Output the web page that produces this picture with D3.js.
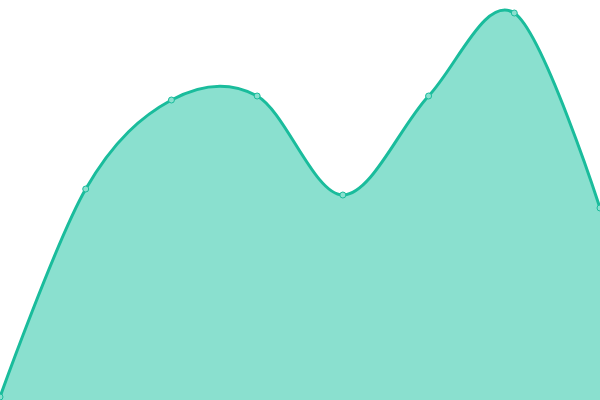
<!DOCTYPE html>
<html>
<head>
<meta charset="utf-8">
<script src="https://cdn.jsdelivr.net/npm/d3@7"></script>
<style>
  html, body { margin: 0; padding: 0; background: #fff; }
  svg { display: block; }
</style>
</head>
<body>
<div id="chart"></div>
<script>
// data
const categories = [0, 1, 2, 3, 4, 5, 6, 7];
const values = [3, 211, 300, 304, 205, 304, 387, 192];

const width = 600, height = 400;

const xScale = d3.scaleLinear()
    .domain([0, categories.length - 1])
    .range([0, width]);

const yScale = d3.scaleLinear()
    .domain([0, 400])
    .range([height, 0]);

const data = categories.map((c, i) => ({x: c, y: values[i]}));

const svg = d3.select("#chart")
    .append("svg")
    .attr("width", width)
    .attr("height", height);

const area = d3.area()
    .x(d => xScale(d.x))
    .y0(height)
    .y1(d => yScale(d.y))
    .curve(d3.curveCardinal);

const line = d3.line()
    .x(d => xScale(d.x))
    .y(d => yScale(d.y))
    .curve(d3.curveCardinal);

svg.append("path")
    .attr("d", area(data))
    .attr("fill", "#8ae0cf");

svg.append("path")
    .attr("d", line(data))
    .attr("fill", "none")
    .attr("stroke", "#1abc9c")
    .attr("stroke-width", 3);

svg.selectAll("circle")
    .data(data)
    .enter()
    .append("circle")
    .attr("cx", d => xScale(d.x))
    .attr("cy", d => yScale(d.y))
    .attr("r", 3)
    .attr("fill", "#8ae0cf")
    .attr("stroke", "#1abc9c")
    .attr("stroke-width", 1);
</script>
</body>
</html>
